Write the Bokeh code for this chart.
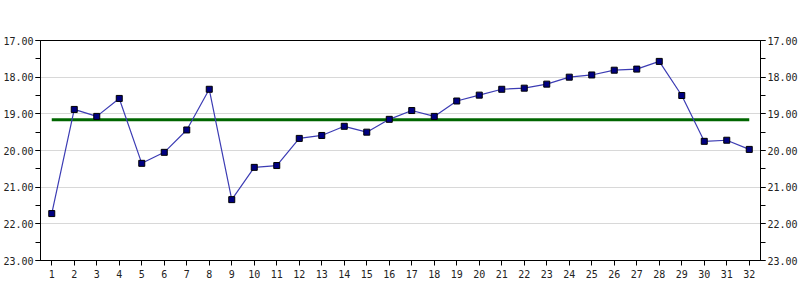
from bokeh.plotting import figure
from bokeh.models import Range1d, LinearAxis, FixedTicker, SingleIntervalTicker, NumeralTickFormatter
from bokeh.embed import file_html
from bokeh.resources import INLINE

categories = list(range(1, 33))
values = [21.72, 18.88, 19.07, 18.58, 20.35, 20.05, 19.44, 18.33, 21.34, 20.46,
          20.41, 19.67, 19.59, 19.34, 19.50, 19.15, 18.91, 19.07, 18.65, 18.49,
          18.33, 18.30, 18.19, 18.00, 17.94, 17.81, 17.78, 17.57, 18.50, 19.75,
          19.72, 19.97]
mean_value = 19.16
y_top, y_bottom = 17, 23

FONT = "DejaVu Sans Mono"

p = figure(width=800, height=300, output_backend="svg", toolbar_location=None,
           x_range=Range1d(0.5, 32.5), y_range=Range1d(y_bottom, y_top),
           min_border_left=40, min_border_right=40, min_border_top=40, min_border_bottom=40)
p.background_fill_color = "white"
p.border_fill_color = "white"
p.outline_line_color = "black"
p.outline_line_width = 1

p.xgrid.visible = False
p.ygrid.grid_line_color = "#d8d8d8"
p.ygrid.grid_line_width = 1

def style_axis(ax):
    ax.axis_line_color = "black"
    ax.major_tick_line_color = "black"
    ax.minor_tick_line_color = "black"
    ax.major_tick_in = 0
    ax.minor_tick_in = 0
    ax.major_tick_out = 5
    ax.minor_tick_out = 5
    ax.major_label_text_font = FONT
    ax.major_label_text_font_size = "10px"
    ax.major_label_text_color = "#222222"
    ax.major_label_standoff = 2

yt = SingleIntervalTicker(interval=1, num_minor_ticks=2)
p.yaxis.ticker = yt
p.ygrid.ticker = yt
p.yaxis.formatter = NumeralTickFormatter(format="0.00")
style_axis(p.yaxis[0])

ra = LinearAxis(ticker=SingleIntervalTicker(interval=1, num_minor_ticks=2),
                formatter=NumeralTickFormatter(format="0.00"))
style_axis(ra)
p.add_layout(ra, "right")

p.xaxis.ticker = FixedTicker(ticks=categories, minor_ticks=[])
style_axis(p.xaxis[0])
p.xaxis.major_label_standoff = 4

p.line(x=[categories[0], categories[-1]], y=[mean_value, mean_value],
       line_color="#006600", line_width=3)

p.line(x=categories, y=values, line_color="#3c3cb4", line_width=1.2)
p.scatter(x=categories, y=values, marker="square", size=6,
          fill_color="#000080", line_color="black", line_width=1)

open("out.html", "w").write(file_html(p, INLINE))
